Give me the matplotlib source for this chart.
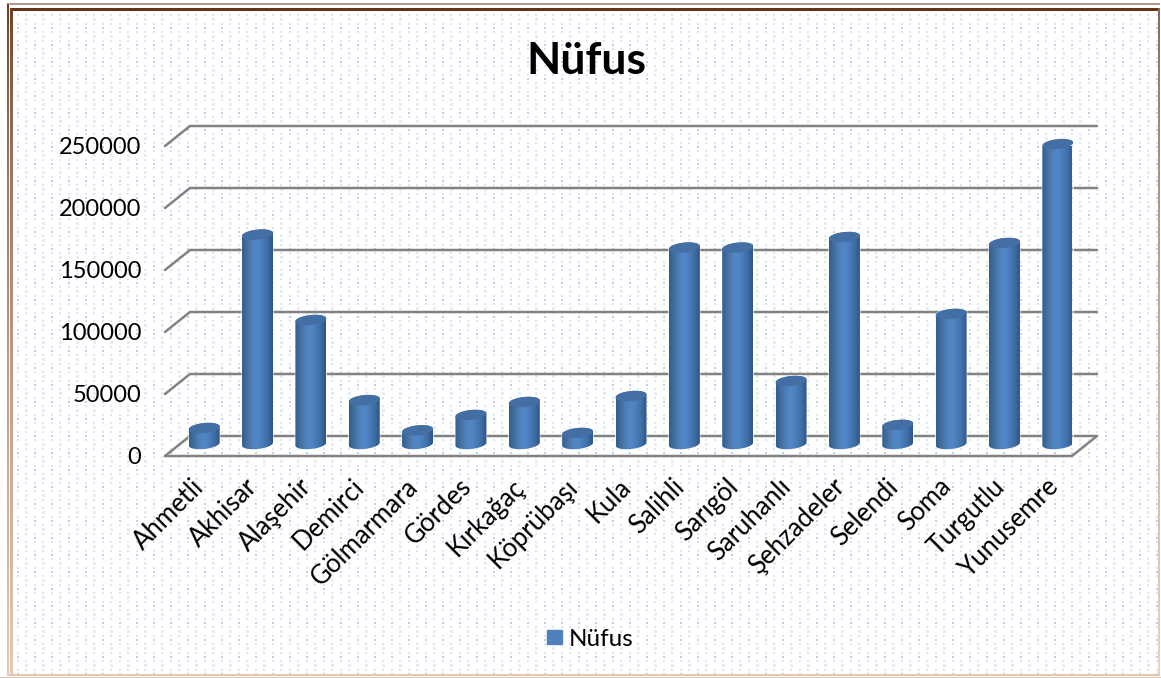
#!/bin/env python
import numpy as np
import matplotlib
matplotlib.use("Agg")
import matplotlib.pyplot as plt
from matplotlib.patches import Patch, Polygon
from matplotlib.colors import LinearSegmentedColormap

plt.rcParams['font.family'] = ['Lato', 'Noto Sans', 'DejaVu Sans']

districts = ["Ahmetli", "Akhisar", "Alaşehir", "Demirci", "Gölmarmara", "Gördes",
             "Kırkağaç", "Köprübaşı", "Kula", "Salihli", "Sarıgöl", "Saruhanlı",
             "Şehzadeler", "Selendi", "Soma", "Turgutlu", "Yunusemre"]
population = [14500, 170500, 101600, 37000, 12600, 25000,
              35500, 10500, 40300, 160000, 160000, 52400,
              168500, 17000, 106500, 163700, 243500]
y_ticks = [0, 50000, 100000, 150000, 200000, 250000]
series_name = "Nüfus"

W, H = 1161, 678
fig = plt.figure(figsize=(W / 100, H / 100), dpi=100)


def background():
    # dotted texture tile, 17 px period
    img = np.ones((H, W, 3))
    dots = [(10, 0, 2, (0.74, 0.82, 0.93)),
            (6, 0, 2, (0.86, 0.90, 0.96)), (6, 8, 2, (0.86, 0.90, 0.96)),
            (14, 0, 2, (0.86, 0.90, 0.96)), (14, 8, 2, (0.86, 0.90, 0.96)),
            (1, 8, 3, (0.90, 0.93, 0.97))]
    for r, c, size, col in dots:
        for yy in range(r, H, 17):
            for xx in range(c, W, 17):
                img[yy:yy + size, xx:xx + size] = col
    # brown frame fading towards the bottom
    dark = np.array([0.40, 0.20, 0.10])
    light = np.array([0.91, 0.78, 0.70])
    fade = np.linspace(0, 1, H)[:, None] ** 0.6
    col = (dark * (1 - fade) + light * fade)[:, None, :]
    img[:7, :] = 1
    img[:, :7] = 1
    img[3:5, 7:1160] = dark * 0.5 + 0.5
    img[5:8, 7:1160] = 1
    img[8:11, 10:1160] = dark
    img[11:13, 13:1158] = 1
    img[4:676, 7:9] = col[4:676]
    img[4:676, 9:10] = 1
    img[9:676, 10:13] = col[9:676]
    img[8:676, 1158:1160] = col[8:676] * 0.8 + 0.2
    img[676:, :] = 1
    img[674:676, 7:1160] = light
    img[677:, :] = light
    return img


bg = fig.add_axes([0, 0, 1, 1])
bg.imshow(background(), aspect='auto', interpolation='nearest', extent=(0, W, H, 0))
bg.axis('off')

# axes box = front plane of the fake 3d chart
left, right, top, bottom = 165, 1072, 146, 456
ax = fig.add_axes([left / W, 1 - bottom / H, (right - left) / W, (bottom - top) / H])
ax.patch.set_visible(False)
for s in ax.spines.values():
    s.set_visible(False)

n = len(districts)
xlim = (-0.5, n - 0.5)
ylim = (0, 250000)
px_x = (right - left) / n
px_y = (bottom - top) / 250000
depth_x = 25 / px_x
depth_y = 20 / px_y

grid_kw = dict(color='#828282', lw=1.8, clip_on=False, solid_capstyle='round', zorder=1)
for v in y_ticks:
    ax.plot([xlim[0], xlim[0] + depth_x, xlim[1] + depth_x],
            [v, v + depth_y, v + depth_y], **grid_kw)
ax.plot([xlim[0], xlim[1], xlim[1] + depth_x], [0, 0, depth_y], **grid_kw)

cyl = LinearSegmentedColormap.from_list(
    "cyl", ["#335d92", "#44709f", "#4f81bd", "#5288c8", "#4a7cb8", "#3f6da6", "#2e5585"])
grad = np.linspace(0, 1, 64)[None, :]

half_w = 15.5 / px_x
ell_h = 5 / px_y
tilt = 1.5 / px_y
for i, val in enumerate(population):
    cx = i + depth_x / 2
    y0 = depth_y / 2 + 2 / px_y
    y1 = val + depth_y / 2
    t_low = np.linspace(np.pi, 2 * np.pi, 40)
    t_up = np.linspace(0, np.pi, 40)
    xs = np.r_[cx + half_w * np.cos(t_low), cx + half_w * np.cos(t_up)]
    ys = np.r_[y0 + ell_h * np.sin(t_low) + tilt * np.cos(t_low),
               y1 + ell_h * np.sin(t_up) + tilt * np.cos(t_up)]
    body = Polygon(np.c_[xs, ys], closed=True, fc='none', ec='white', lw=1.0, alpha=0.7,
                   clip_on=False, zorder=3)
    ax.add_patch(body)
    im = ax.imshow(grad, cmap=cyl, aspect='auto', zorder=3, interpolation='bilinear',
                   extent=(cx - half_w, cx + half_w, y0 - ell_h - tilt, y1 + ell_h + tilt))
    im.set_clip_path(body)
    t = np.linspace(0, 2 * np.pi, 60)
    cap = Polygon(np.c_[cx + half_w * np.cos(t), y1 + ell_h * np.sin(t) + tilt * np.cos(t)],
                  closed=True, fc='#446fa5', ec='none', clip_on=False, zorder=4)
    ax.add_patch(cap)

ax.set_xlim(xlim)
ax.set_ylim(ylim)
ax.set_yticks(y_ticks)
ax.set_yticklabels([str(v) for v in y_ticks], fontsize=17)
ax.tick_params(axis='y', length=0, pad=17)
ax.set_xticks(range(n))
ax.set_xticklabels(districts, fontsize=18.5, rotation=45, ha='right', rotation_mode='anchor')
ax.tick_params(axis='x', length=0, pad=13)

fig.text(586 / W, 1 - 61 / H, series_name, fontsize=32, fontweight='bold', ha='center', va='center')

fig.legend(handles=[Patch(color='#4f81bd', label=series_name)],
           loc='center', bbox_to_anchor=(590.5 / W, 1 - 639 / H), frameon=False,
           fontsize=17.5, handlelength=0.58, handleheight=0.5, handletextpad=0.3)

fig.savefig('out.png', dpi=100)
